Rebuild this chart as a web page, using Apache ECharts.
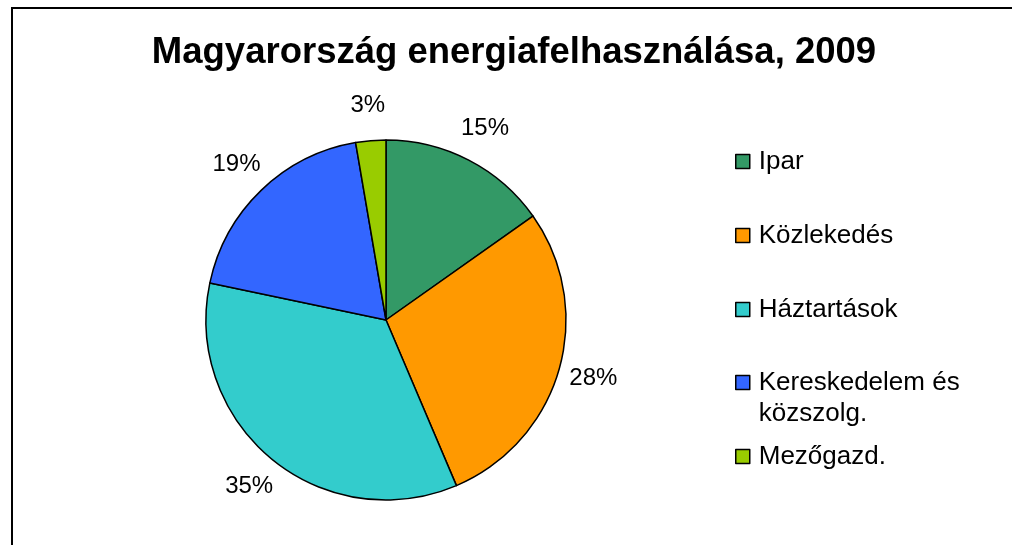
<!DOCTYPE html>
<html>
<head>
<meta charset="utf-8">
<script src="https://cdn.jsdelivr.net/npm/echarts@6/dist/echarts.min.js"></script>
<style>
  html, body { margin: 0; padding: 0; background: #fff; }
  #main { width: 1012px; height: 545px; }
</style>
</head>
<body>
<div id="main"></div>
<script>
var chartTitle = 'Magyarország energiafelhasználása, 2009';

// szektorok és részesedésük (%)
var categories = ['Ipar', 'Közlekedés', 'Háztartások', 'Kereskedelem és közszolg.', 'Mezőgazd.'];
var values = [15.2, 28.4, 34.7, 19.0, 2.7];
var colors = ['#339966', '#FF9900', '#33CCCC', '#3366FF', '#99CC00'];

var font = 'Liberation Sans, Arial, sans-serif';

function buildData() {
	var data = [];
	for (var i = 0; i < categories.length; i++) {
		data.push({
			name: categories[i],
			value: values[i],
			itemStyle: { color: colors[i] }
		});
	}
	return data;
}

// jelmagyarázat blokk (a kétsoros tétel miatt három részben)
function legendItem(top, names) {
	return {
		orient: 'vertical',
		left: 735,
		top: top,
		padding: 0,
		itemGap: 43,
		itemWidth: 14,
		itemHeight: 14,
		icon: 'rect',
		selectedMode: false,
		data: names,
		itemStyle: { borderColor: '#000', borderWidth: 1.5 },
		formatter: function (name) {
			// üres első sor: így a négyzet az első szöveges sorhoz igazodik
			if (name.indexOf(' és ') >= 0) {
				return '\n' + name.replace(' és ', ' és\n');
			}
			return name;
		},
		textStyle: {
			fontFamily: font,
			fontSize: 26,
			color: '#000',
			lineHeight: 31,
			padding: [0, 0, 0, 4]
		}
	};
}

var myChart = echarts.init(document.getElementById('main'));

var option = {
	backgroundColor: '#fff',
	animation: false,
	title: {
		text: chartTitle,
		left: 509,
		textAlign: 'center',
		top: 29,
		textStyle: {
			fontFamily: font,
			fontSize: 36.5,
			fontWeight: 'bold',
			color: '#000'
		}
	},
	graphic: [{
		type: 'rect',
		shape: { x: 12, y: 8, width: 1010, height: 560 },
		style: { fill: 'none', stroke: '#000', lineWidth: 2 },
		silent: true
	}],
	legend: [
		legendItem(146, categories.slice(0, 3)),
		legendItem(336, categories.slice(3, 4)),
		legendItem(441, categories.slice(4, 5))
	],
	series: [
		{
			name: 'szektor',
			type: 'pie',
			center: [386, 320],
			radius: [0, 180],
			startAngle: 90,
			clockwise: true,
			percentPrecision: 0,
			label: { show: false },
			labelLine: { show: false },
			itemStyle: { borderColor: '#000', borderWidth: 1.5 },
			emphasis: { disabled: true },
			data: buildData()
		},
		{
			// átlátszó gyűrű, csak a százalék feliratokhoz
			name: 'felirat',
			type: 'pie',
			center: [386, 320],
			radius: [185, 240],
			startAngle: 90,
			clockwise: true,
			percentPrecision: 0,
			silent: true,
			itemStyle: { color: 'rgba(0,0,0,0)', borderWidth: 0 },
			label: {
				show: true,
				position: 'inside',
				formatter: '{d}%',
				fontFamily: font,
				fontSize: 24,
				color: '#000'
			},
			labelLine: { show: false },
			emphasis: { disabled: true },
			data: buildData().map(function (d) {
				return { name: d.name, value: d.value };
			})
		}
	]
};

myChart.setOption(option);
</script>
</body>
</html>
